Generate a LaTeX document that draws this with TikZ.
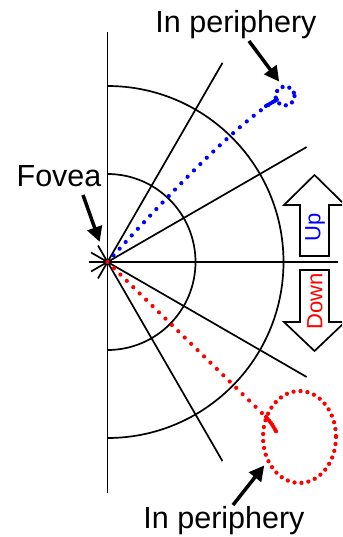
\documentclass[tikz,border=0pt]{standalone}
\usepackage{fontspec}
\setmainfont{Liberation Sans}
\usetikzlibrary{arrows.meta}
\begin{document}
\begin{tikzpicture}[x=1pt,y=-1pt,
  thinline/.style={line width=1.7pt, line join=miter},
  bluedots/.style={draw=blue, line width=4.2pt, line cap=round, dash pattern=on 0pt off 9pt},
  reddots/.style={draw=red, line width=4.2pt, line cap=round, dash pattern=on 0pt off 9pt},
  densedots/.style={line width=4.2pt, line cap=round, dash pattern=on 0pt off 2.5pt},
  ringdots/.style={line width=4.3pt, line cap=round, dash pattern=on 0pt off 7pt},
  pointer/.style={line width=3.5pt, -{Triangle[length=15pt,width=15pt]}, shorten >=-2pt},
  biglabel/.style={font=\fontsize{30.5}{35}\selectfont, anchor=base, inner sep=0pt},
  smalllabel/.style={font=\fontsize{22}{26}\selectfont, rotate=90, inner sep=0pt},
]
\useasboundingbox (0,0) rectangle (342,537);
\clip (0,0) rectangle (342,537);
\coordinate (F) at (107.5,262);
\coordinate (Vt) at (107.5,32);
\coordinate (Vb) at (107.5,493);
% vertical axis
\draw[thinline] (Vt) -- (Vb);
% arcs
\draw[thinline] (F) ++(0,-176) arc[start angle=-90,end angle=90,radius=176];
\draw[thinline] (F) ++(0,-88) arc[start angle=-90,end angle=90,radius=88];
% spokes
\foreach \a in {-60,-30,0,30,60}{
  \draw[thinline] (F) +(\a+180:19) -- +(\a:230);
}
% blue path
\coordinate (Bend) at (278,99);
\coordinate (Bc) at (285,96);
\draw[bluedots] (F) .. controls (190.6,170) and (247.6,115.7) .. (Bend);
\draw[densedots, draw=blue] (266,106) -- (Bend);
\draw[ringdots, draw=blue] (Bc) circle[radius=9.5];
% red path
\coordinate (Rmid) at (266,417);
\coordinate (Rend) at (277,433);
\coordinate (Rc) at (299.5,437);
\draw[reddots] (F) -- (Rmid);
\draw[densedots, draw=red] (Rmid) .. controls (272,424) .. (Rend);
\draw[ringdots, draw=red] (Rc) ellipse[x radius=36.5, y radius=46];
% up / down arrows
\draw[thinline] (314.5,175) -- (345,205) -- (329,205) -- (329,256) -- (300,256) -- (300,205) -- (284,205) -- cycle;
\draw[thinline] (314.5,351) -- (345,322) -- (329,322) -- (329,270) -- (300,270) -- (300,322) -- (284,322) -- cycle;
\node[smalllabel, text=blue] (up) at (315,227) {Up};
\node[smalllabel, text=red] (down) at (315,301) {Down};
% labels
\node[biglabel] (top) at (236,33) {In periphery};
\node[biglabel] (bot) at (224,528) {In periphery};
\node[biglabel] (fov) at (59,187) {Fovea};
% pointers
\coordinate (p1a) at (83,195);
\coordinate (p1b) at (99,240);
\coordinate (p2a) at (249,41);
\coordinate (p2b) at (278,80);
\coordinate (p3a) at (233,505);
\coordinate (p3b) at (263,467);
\draw[pointer] (p1a) -- (p1b);
\draw[pointer] (p2a) -- (p2b);
\draw[pointer] (p3a) -- (p3b);
\end{tikzpicture}
\end{document}
